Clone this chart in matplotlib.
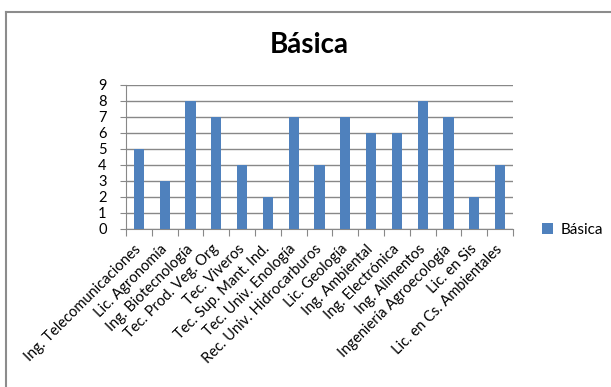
import numpy as np
import matplotlib
matplotlib.use("Agg")
from matplotlib import pyplot as plt
from matplotlib.lines import Line2D

carreras = [
    "Ing. Telecomunicaciones", "Lic. Agronomía", "Ing. Biotecnología",
    "Tec. Prod. Veg. Org", "Tec. Viveros", "Tec. Sup. Mant. Ind.",
    "Tec. Univ. Enología", "Rec. Univ. Hidrocarburos", "Lic. Geología",
    "Ing. Ambiental", "Ing. Electrónica", "Ing. Alimentos",
    "Ingeniería Agroecología", "Lic. en Sis", "Lic. en Cs. Ambientales",
]
basica = [5, 3, 8, 7, 4, 2, 7, 4, 7, 6, 6, 8, 7, 2, 4]

plt.rcParams["font.family"] = ["Lato", "DejaVu Sans"]

fig = plt.figure(figsize=(6.11, 3.87), dpi=100)
W, H = 611, 387
ax = fig.add_axes([126 / W, 1 - 229 / H, (513 - 126) / W, (229 - 85) / H])

x = np.arange(len(carreras))
ax.bar(x, basica, width=0.4, color="#4F81BD", label="Básica", zorder=3)

ax.set_xlim(-0.5, len(carreras) - 0.5)
ax.set_ylim(0, 9)
ax.set_yticks(range(0, 10))
ax.yaxis.grid(True, color="#888888", linewidth=1.0, zorder=0)

# ticks at category boundaries, labels at centres
ax.set_xticks(np.arange(-0.5, len(carreras)), minor=False)
ax.set_xticklabels([])
ax.set_xticks(x, minor=True)
ax.set_xticklabels(carreras, minor=True, rotation=45, ha="right",
                   va="center", rotation_mode="anchor", fontsize=10.5)
ax.tick_params(axis="x", which="major", length=5, color="#888888")
ax.tick_params(axis="x", which="minor", length=0, pad=13)
ax.tick_params(axis="y", length=4, color="#888888", labelsize=10.5, pad=10)

for side in ["top", "right"]:
    ax.spines[side].set_visible(False)
for side in ["left", "bottom"]:
    ax.spines[side].set_color("#888888")

fig.text(309 / W, 1 - 45 / H, "Básica", ha="center", va="center",
         fontsize=20, fontweight="bold")

fig.legend(loc="center left", bbox_to_anchor=(536 / W, 1 - 230 / H),
           frameon=False, fontsize=11, handlelength=0.7, handleheight=0.7,
           handletextpad=0.5, borderaxespad=0)

# chart frame
fig.add_artist(Line2D([6 / W, 6 / W], [0, 1 - 12 / H], color="#8c8c8c",
                      linewidth=1.5, transform=fig.transFigure))
fig.add_artist(Line2D([6 / W, 1], [1 - 12 / H, 1 - 12 / H], color="#8c8c8c",
                      linewidth=1.5, transform=fig.transFigure))

fig.savefig("out.png", dpi=100)
